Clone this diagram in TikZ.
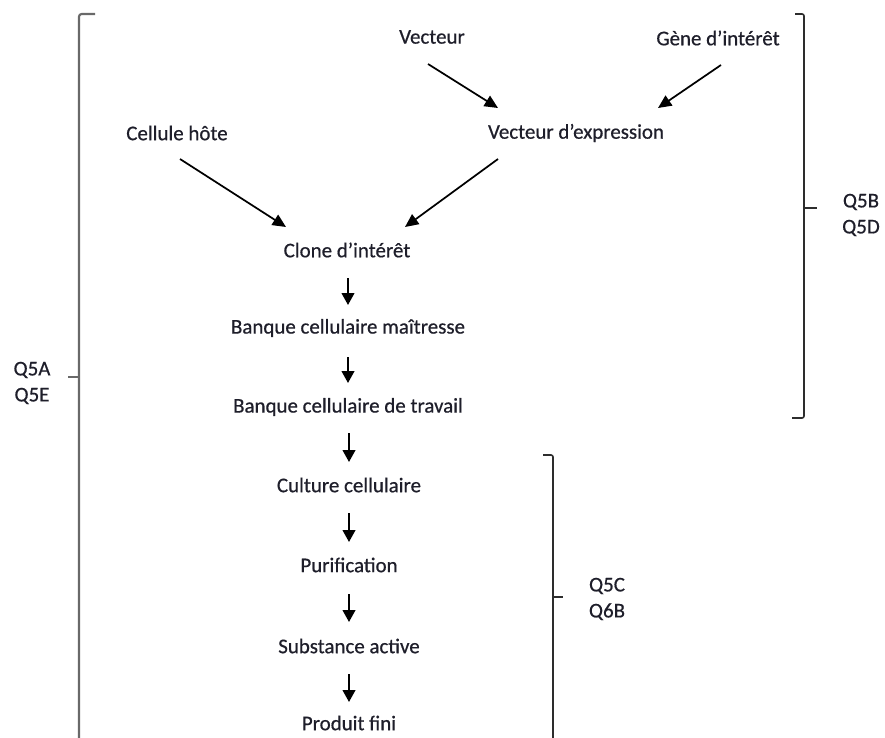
\documentclass[tikz,border=0pt]{standalone}
\usepackage{fontspec}
\setmainfont{Carlito}
\usetikzlibrary{arrows.meta}
\definecolor{txt}{RGB}{30,30,42}
\definecolor{brL}{RGB}{105,105,105}
\definecolor{brR}{RGB}{45,45,45}
\begin{document}
\begin{tikzpicture}[x=0.75pt,y=-0.75pt,
  lbl/.style={inner sep=0pt,text=txt,font=\fontsize{15.7}{19.5}\selectfont\addfontfeature{FakeBold=0.6},align=center},
  darr/.style={line width=1.3pt,draw=black,-{Triangle[length=10pt,width=9pt]}},
  varr/.style={line width=1.6pt,draw=black,-{Triangle[length=9pt,width=9.5pt]}},
  lbrack/.style={line width=1.6pt,draw=brL,rounded corners=2pt},
  rbrack/.style={line width=1.2pt,draw=brR,rounded corners=1.5pt}]
\useasboundingbox (0,0) rectangle (885,738);
% nodes
\node[lbl] (vec)   at (432,37)  {Vecteur};
\node[lbl] (gene)  at (718,38)  {Gène d’intérêt};
\node[lbl] (cell)  at (177,133) {Cellule hôte};
\node[lbl] (vexp)  at (576,133) {Vecteur d’expression};
\node[lbl] (clone) at (347,250) {Clone d’intérêt};
\node[lbl] (bcm)   at (348,328) {Banque cellulaire maîtresse};
\node[lbl] (bct)   at (348,407) {Banque cellulaire de travail};
\node[lbl] (cc)    at (349,485) {Culture cellulaire};
\node[lbl] (pur)   at (349,565) {Purification};
\node[lbl] (sa)    at (349,646) {Substance active};
\node[lbl] (pf)    at (349,723) {Produit fini};
\node[lbl] (qa)    at (32,383)  {Q5A\\Q5E};
\node[lbl] (qb)    at (861,215) {Q5B\\Q5D};
\node[lbl] (qc)    at (607,599) {Q5C\\Q6B};
% diagonal arrows
\draw[darr] ([shift={(-4,27)}]vec.center) -- ([shift={(-78,-25)}]vexp.center);
\draw[darr] ([shift={(3,27)}]gene.center) -- ([shift={(82,-25)}]vexp.center);
\draw[darr] ([shift={(3,26)}]cell.center) -- ([shift={(-61,-23)}]clone.center);
\draw[darr] ([shift={(-78,26)}]vexp.center) -- ([shift={(58,-23)}]clone.center);
% vertical arrows
\draw[varr] ([shift={(1,28)}]clone.center) -- ([shift={(0,-23)}]bcm.center);
\draw[varr] ([shift={(0,29)}]bcm.center) -- ([shift={(0,-24)}]bct.center);
\draw[varr] ([shift={(1,26)}]bct.center) -- ([shift={(0,-23)}]cc.center);
\draw[varr] ([shift={(0,28)}]cc.center) -- ([shift={(0,-23)}]pur.center);
\draw[varr] ([shift={(0,29)}]pur.center) -- ([shift={(0,-24)}]sa.center);
\draw[varr] ([shift={(0,28)}]sa.center) -- ([shift={(0,-21)}]pf.center);
% brackets
\draw[lbrack] (95,14) -- (79,14) -- (79,745);
\draw[lbrack] (79,377) -- (68,377);
\draw[rbrack] (795,14) -- (804,14) -- (804,418) -- (792,418);
\draw[rbrack] (804,208) -- (817,208);
\draw[rbrack] (543,455) -- (553,455) -- (553,745);
\draw[rbrack] (553,597) -- (563,597);
\end{tikzpicture}
\end{document}
